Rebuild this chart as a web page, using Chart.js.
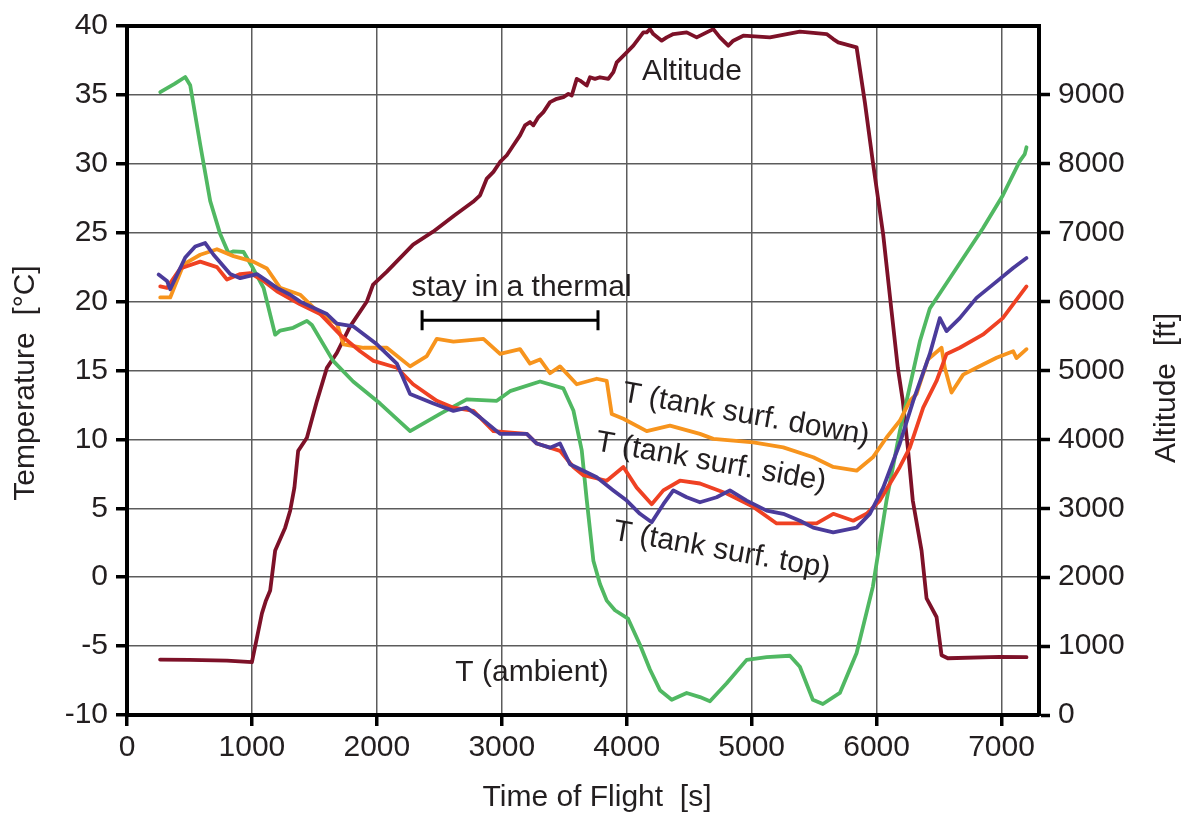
<!DOCTYPE html>
<html>
<head>
<meta charset="utf-8">
<title>Time of Flight</title>
<script src="https://cdn.jsdelivr.net/npm/chart.js@4.4.1/dist/chart.umd.min.js"></script>
<style>
  html, body { margin: 0; padding: 0; background: #fff; }
</style>
</head>
<body>
<canvas id="graf" width="1191" height="816"></canvas>
<script>
/* axis ticks */
const xTicks = [0, 1000, 2000, 3000, 4000, 5000, 6000, 7000];
const tempTicks = [-10, -5, 0, 5, 10, 15, 20, 25, 30, 35, 40];
const altTicks = [0, 1000, 2000, 3000, 4000, 5000, 6000, 7000, 8000, 9000];

/* altitude [ft] over time of flight [s] */
const altTime = [265, 500, 800, 1000, 1080, 1110, 1146, 1186, 1266, 1306, 1340, 1370, 1440, 1520, 1600, 1680, 1786, 1920, 1970, 2080, 2290, 2450, 2620, 2770, 2826, 2880, 2933, 2986, 3040, 3093, 3146, 3186, 3226, 3253, 3293, 3333, 3386, 3440, 3493, 3533, 3560, 3600, 3626, 3680, 3706, 3746, 3786, 3853, 3893, 3920, 4000, 4053, 4133, 4160, 4186, 4213, 4280, 4320, 4373, 4480, 4560, 4640, 4693, 4746, 4813, 4853, 4933, 5146, 5386, 5600, 5653, 5693, 5840, 5906, 5970, 6053, 6120, 6170, 6210, 6250, 6290, 6360, 6400, 6480, 6520, 6570, 6986, 7200];
const altValue = [805, 800, 790, 766, 1475, 1650, 1808, 2387, 2719, 2965, 3300, 3833, 4025, 4556, 5038, 5255, 5640, 6002, 6248, 6436, 6827, 7015, 7250, 7448, 7543, 7786, 7883, 8027, 8124, 8269, 8413, 8558, 8606, 8558, 8678, 8750, 8895, 8943, 8967, 9015, 8992, 9232, 9208, 9136, 9256, 9232, 9256, 9232, 9329, 9473, 9618, 9715, 9907, 9907, 9955, 9883, 9787, 9835, 9883, 9907, 9835, 9907, 9955, 9835, 9715, 9787, 9859, 9835, 9917, 9883, 9810, 9763, 9690, 8895, 8027, 6971, 5858, 5038, 4556, 3881, 3110, 2386, 1692, 1422, 868, 824, 843, 839];

/* T (ambient) [°C] */
const ambTime = [266, 380, 466, 506, 586, 666, 746, 813, 853, 933, 1010, 1093, 1186, 1226, 1330, 1440, 1480, 1650, 1810, 2026, 2266, 2506, 2720, 2960, 3066, 3306, 3493, 3573, 3640, 3680, 3733, 3786, 3840, 3906, 4010, 4106, 4186, 4266, 4360, 4480, 4586, 4666, 4800, 4960, 5120, 5306, 5386, 5490, 5570, 5706, 5840, 5970, 6080, 6186, 6240, 6346, 6426, 6586, 6850, 7010, 7146, 7186, 7200];
const ambTemp = [35.2, 35.8, 36.3, 35.7, 31.4, 27.3, 24.9, 23.5, 23.65, 23.6, 22.4, 21.0, 17.6, 17.9, 18.1, 18.6, 18.3, 15.7, 14.2, 12.6, 10.6, 11.85, 12.9, 12.8, 13.5, 14.2, 13.7, 12.1, 9.2, 5.6, 1.2, -0.5, -1.7, -2.4, -3.0, -4.9, -6.7, -8.2, -8.9, -8.4, -8.7, -9.0, -7.7, -6.0, -5.8, -5.7, -6.5, -8.9, -9.2, -8.4, -5.5, -0.7, 5.6, 10.6, 12.8, 17.1, 19.5, 21.7, 25.3, 27.7, 30.2, 30.7, 31.2];

/* T (tank surf. down) [°C] */
const downTime = [266, 346, 453, 586, 720, 853, 1010, 1120, 1226, 1386, 1546, 1680, 1733, 1893, 2080, 2266, 2400, 2480, 2613, 2853, 2986, 3146, 3226, 3306, 3386, 3466, 3600, 3760, 3840, 3880, 3973, 4160, 4346, 4586, 4693, 5013, 5253, 5493, 5653, 5840, 5970, 6080, 6186, 6266, 6320, 6410, 6520, 6546, 6600, 6693, 6800, 6960, 7093, 7120, 7200];
const downTemp = [20.3, 20.3, 22.7, 23.4, 23.8, 23.3, 22.9, 22.4, 21.0, 20.5, 19.1, 18.4, 16.9, 16.65, 16.65, 15.3, 16.05, 17.3, 17.1, 17.3, 16.2, 16.55, 15.5, 15.8, 14.8, 15.3, 14.0, 14.4, 14.24, 11.85, 11.5, 10.6, 11.0, 10.4, 10.04, 9.78, 9.42, 8.7, 8.0, 7.73, 8.7, 10.14, 11.35, 12.8, 13.3, 15.8, 16.65, 15.2, 13.4, 14.7, 15.2, 15.93, 16.4, 15.9, 16.55];

/* T (tank surf. side) [°C] */
const sideTime = [266, 320, 426, 586, 720, 800, 906, 986, 1093, 1200, 1386, 1546, 1706, 1866, 1973, 2160, 2290, 2480, 2613, 2773, 2933, 3200, 3280, 3466, 3573, 3653, 3840, 3973, 4080, 4200, 4293, 4426, 4586, 4800, 5013, 5200, 5386, 5520, 5653, 5813, 5920, 6026, 6186, 6266, 6373, 6480, 6560, 6666, 6850, 7010, 7200];
const sideTemp = [21.1, 21.0, 22.4, 22.9, 22.5, 21.6, 22.0, 22.07, 21.5, 20.75, 19.8, 19.1, 17.6, 16.4, 15.7, 15.2, 14.0, 12.8, 12.3, 12.07, 10.6, 10.4, 9.7, 9.17, 8.0, 7.4, 7.0, 8.0, 6.5, 5.3, 6.3, 7.0, 6.8, 6.07, 5.1, 3.9, 3.9, 3.9, 4.6, 4.1, 4.6, 5.56, 8.0, 9.4, 12.3, 14.24, 16.2, 16.65, 17.6, 18.8, 21.1];

/* T (tank surf. top) [°C] */
const topTime = [253, 320, 346, 466, 546, 626, 693, 826, 906, 1040, 1120, 1200, 1306, 1386, 1600, 1680, 1813, 2000, 2160, 2266, 2453, 2613, 2720, 2826, 2986, 3200, 3280, 3386, 3466, 3546, 3653, 3760, 3893, 4000, 4106, 4200, 4293, 4373, 4480, 4586, 4720, 4826, 4960, 5120, 5253, 5386, 5493, 5653, 5840, 5946, 6053, 6186, 6293, 6426, 6506, 6560, 6666, 6800, 6933, 7093, 7200];
const topTemp = [21.96, 21.5, 20.9, 23.2, 24.0, 24.25, 23.4, 22.0, 21.7, 22.0, 21.5, 21.0, 20.5, 20.0, 19.1, 18.4, 18.2, 16.9, 15.5, 13.3, 12.6, 12.07, 12.3, 11.6, 10.4, 10.4, 9.7, 9.4, 9.7, 8.2, 7.73, 7.25, 6.3, 5.56, 4.6, 3.99, 5.3, 6.3, 5.8, 5.44, 5.8, 6.3, 5.56, 4.83, 4.6, 4.1, 3.6, 3.26, 3.6, 4.6, 6.5, 9.7, 12.8, 16.2, 18.8, 17.86, 18.8, 20.27, 21.25, 22.44, 23.16];

/* labels inside the plot, placed in (time, temperature) units */
const labelTexts = ['Altitude', 'stay in a thermal', 'T (tank surf. down)', 'T (tank surf. side)', 'T (tank surf. top)', 'T (ambient)'];
const labelTime = [4522, 3158, 4954, 4674, 4760, 3242];
const labelTemp = [36.67, 20.97, 11.78, 8.34, 1.94, -6.96];
const labelAngle = [0, 0, 10, 10, 10, 0];

/* the thermal bracket: start, end [s] and level [°C] */
const thermal = [2362, 3770, 18.65];

/* axis titles: text and centre in canvas pixels */
const axisTitles = [
    ['Time of Flight  [s]', 597, 798, 0],
    ['Temperature  [°C]', 26, 383, -90],
    ['Altitude  [ft]', 1167, 388, -90]
];

const FONT = "'Liberation Sans', Arial, sans-serif";
const TEXT = '#231f20';
const GRID = '#5c5c5c';

function punkter(tider, vaerdier) {
    return tider.map((t, i) => ({ x: t, y: vaerdier[i] }));
}

/* draws the in-plot texts, the bracket, the top frame line and the axis titles */
const tegnTekster = {
    id: 'tegnTekster',
    afterDatasetsDraw(chart) {
        const { ctx, scales: { x, y } } = chart;
        ctx.save();
        ctx.fillStyle = TEXT;
        ctx.font = '30px ' + FONT;
        ctx.textAlign = 'center';
        ctx.textBaseline = 'middle';
        for (let i = 0; i < labelTexts.length; i++) {
            ctx.save();
            ctx.translate(x.getPixelForValue(labelTime[i]), y.getPixelForValue(labelTemp[i]));
            ctx.rotate(labelAngle[i] * Math.PI / 180);
            ctx.fillText(labelTexts[i], 0, 0);
            ctx.restore();
        }

        const x0 = x.getPixelForValue(thermal[0]);
        const x1 = x.getPixelForValue(thermal[1]);
        const yb = y.getPixelForValue(thermal[2]);
        ctx.strokeStyle = '#000';
        ctx.lineWidth = 3;
        ctx.beginPath();
        ctx.moveTo(x0, yb); ctx.lineTo(x1, yb);
        ctx.moveTo(x0, yb - 10); ctx.lineTo(x0, yb + 10);
        ctx.moveTo(x1, yb - 10); ctx.lineTo(x1, yb + 10);
        ctx.stroke();
        ctx.restore();
    },
    afterDraw(chart) {
        const { ctx, chartArea } = chart;
        ctx.save();
        ctx.strokeStyle = '#000';
        ctx.lineWidth = 4;
        ctx.beginPath();
        ctx.moveTo(chartArea.left - 2, chartArea.top);
        ctx.lineTo(chartArea.right + 2, chartArea.top);
        ctx.stroke();

        ctx.fillStyle = TEXT;
        ctx.font = '30px ' + FONT;
        ctx.textAlign = 'center';
        ctx.textBaseline = 'middle';
        for (const [tekst, tx, ty, vinkel] of axisTitles) {
            ctx.save();
            ctx.translate(tx, ty);
            ctx.rotate(vinkel * Math.PI / 180);
            ctx.fillText(tekst, 0, 0);
            ctx.restore();
        }
        ctx.restore();
    }
};

const tickFont = { family: FONT, size: 30 };
const plainTick = (v) => String(v);

new Chart(document.getElementById('graf'), {
    type: 'line',
    data: {
        datasets: [
            { label: 'T (tank surf. top)', data: punkter(topTime, topTemp), borderColor: '#4b3b9b', yAxisID: 'y' },
            { label: 'T (tank surf. side)', data: punkter(sideTime, sideTemp), borderColor: '#ef4123', yAxisID: 'y' },
            { label: 'T (tank surf. down)', data: punkter(downTime, downTemp), borderColor: '#f7941d', yAxisID: 'y' },
            { label: 'T (ambient)', data: punkter(ambTime, ambTemp), borderColor: '#50b862', yAxisID: 'y' },
            { label: 'Altitude', data: punkter(altTime, altValue), borderColor: '#7d1128', yAxisID: 'y1' }
        ]
    },
    options: {
        responsive: false,
        animation: false,
        layout: { padding: { top: 24, left: 0, right: 0, bottom: 0 } },
        elements: {
            line: { borderWidth: 3.8, tension: 0, fill: false, borderJoinStyle: 'round', borderCapStyle: 'round' },
            point: { radius: 0 }
        },
        plugins: {
            legend: { display: false },
            tooltip: { enabled: false }
        },
        scales: {
            x: {
                type: 'linear',
                min: 0,
                max: 7300,
                afterBuildTicks: (s) => { s.ticks = xTicks.map(v => ({ value: v })); },
                afterFit: (s) => { s.height = 101; },
                grid: { color: GRID, lineWidth: 1.5, tickColor: '#000', tickWidth: 3.5, tickLength: 11 },
                border: { color: '#000', width: 4 },
                ticks: { color: TEXT, font: tickFont, padding: 4, maxRotation: 0, autoSkip: false, callback: plainTick }
            },
            y: {
                position: 'left',
                min: -10,
                max: 40,
                afterBuildTicks: (s) => { s.ticks = tempTicks.map(v => ({ value: v })); },
                afterFit: (s) => { s.width = 127; },
                grid: { color: GRID, lineWidth: 1.5, tickColor: '#000', tickWidth: 3.5, tickLength: 11 },
                border: { color: '#000', width: 4 },
                ticks: { color: TEXT, font: tickFont, padding: 8, autoSkip: false, callback: plainTick }
            },
            y1: {
                position: 'right',
                min: 0,
                max: 10000,
                afterBuildTicks: (s) => { s.ticks = altTicks.map(v => ({ value: v })); },
                afterFit: (s) => { s.width = 152; },
                grid: { drawOnChartArea: false, tickColor: '#000', tickWidth: 3.5, tickLength: 11 },
                border: { color: '#000', width: 4 },
                ticks: { color: TEXT, font: tickFont, padding: 8, autoSkip: false, callback: plainTick }
            }
        }
    },
    plugins: [tegnTekster]
});
</script>
</body>
</html>
